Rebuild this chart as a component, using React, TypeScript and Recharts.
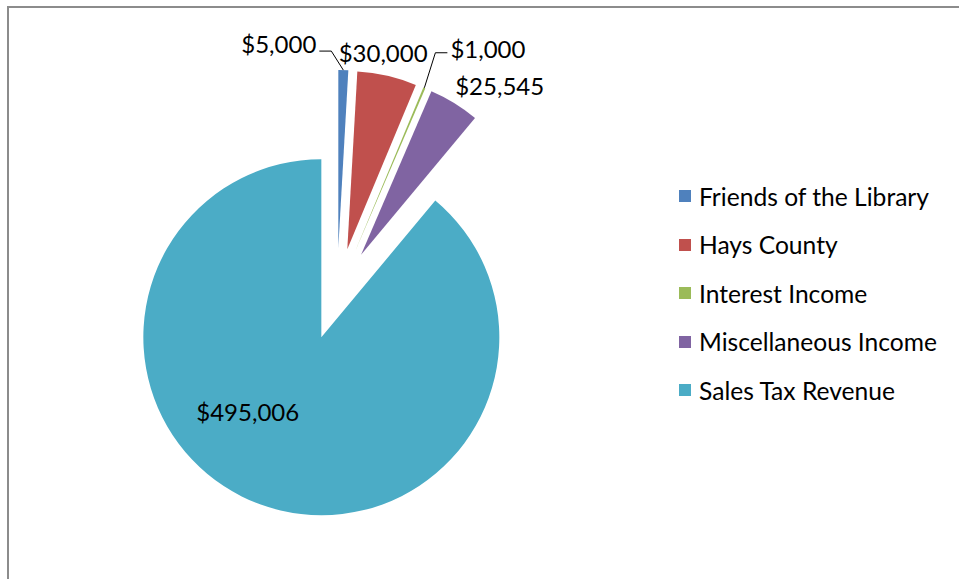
import { PieChart, Pie, Cell, Legend } from "recharts";

const categories = [
  "Friends of the Library",
  "Hays County",
  "Interest Income",
  "Miscellaneous Income",
  "Sales Tax Revenue",
];
const amounts = [5000, 30000, 1000, 25545, 495006];
const amountLabels = ["$5,000", "$30,000", "$1,000", "$25,545", "$495,006"];
const colors = ["#4F81BD", "#C0504D", "#9BBB59", "#8064A2", "#4BACC6"];

const data = categories.map((name, i) => ({ name, value: amounts[i] }));

const FONT = "Lato, 'Open Sans', sans-serif";
const RADIAN = Math.PI / 180;
const EXPLODE = 46;
const total = amounts.reduce((a, b) => a + b, 0);

// same angle convention as the Pie below: start at 90deg, go clockwise
function midAngleOf(i: number) {
  const before = amounts.slice(0, i).reduce((a, b) => a + b, 0);
  return 90 - ((before + amounts[i] / 2) / total) * 360;
}

function explodeOffset(angle: number) {
  return {
    dx: EXPLODE * Math.cos(angle * RADIAN),
    dy: -EXPLODE * Math.sin(angle * RADIAN),
  };
}

// label placement relative to the outer edge of each (exploded) slice
const labelLayout: {
  dx: number;
  dy: number;
  anchor: "start" | "middle" | "end";
  leader?: number[][];
}[] = [
  { dx: -27, dy: -27, anchor: "end", leader: [[-12, -19], [-24, -19]] },
  { dx: -4, dy: -23, anchor: "middle" },
  { dx: 26, dy: -39, anchor: "start", leader: [[11, -35], [23, -35]] },
  { dx: 1, dy: -18, anchor: "start" },
  { dx: -13, dy: -93, anchor: "middle" },
];

function renderLabel(props: any) {
  const { cx, cy, midAngle, outerRadius, index } = props;
  const off = explodeOffset(midAngle);
  const px = cx + off.dx + outerRadius * Math.cos(midAngle * RADIAN);
  const py = cy + off.dy - outerRadius * Math.sin(midAngle * RADIAN);
  const l = labelLayout[index];
  const pts = l.leader
    ? [[px, py], ...l.leader.map(([x, y]) => [px + x, py + y])]
        .map((p) => p.join(","))
        .join(" ")
    : null;
  return (
    <g key={`lbl-${index}`}>
      {pts && <polyline points={pts} fill="none" stroke="#000" strokeWidth={1} />}
      <text
        x={px + l.dx}
        y={py + l.dy}
        textAnchor={l.anchor}
        dominantBaseline="central"
        fontFamily={FONT}
        fontSize={24}
        fill="#000"
      >
        {amountLabels[index]}
      </text>
    </g>
  );
}

function LegendContent(props: any) {
  const payload = props.payload ?? [];
  return (
    <div>
      {payload.map((entry: any) => (
        <div
          key={entry.value}
          style={{ display: "flex", alignItems: "center", height: 48.5 }}
        >
          <span
            style={{
              display: "inline-block",
              width: 12,
              height: 12,
              background: entry.color,
              marginRight: 8,
            }}
          />
          <span style={{ fontFamily: FONT, fontSize: 24.6, color: "#000" }}>
            {entry.value}
          </span>
        </div>
      ))}
    </div>
  );
}

export default function App() {
  return (
    <>
      <div
        style={{
          position: "absolute",
          left: 7,
          top: 6,
          width: 950,
          height: 571,
          borderLeft: "2px solid #8c8c8c",
          borderTop: "2px solid #8c8c8c",
        }}
      />
      <div style={{ position: "absolute", left: 0, top: 0 }}>
        <PieChart
          width={959}
          height={579}
          margin={{ top: 0, right: 0, bottom: 0, left: 0 }}
        >
          <Pie
            data={data}
            dataKey="value"
            nameKey="name"
            cx={337}
            cy={294}
            outerRadius={178}
            startAngle={90}
            endAngle={-270}
            stroke="none"
            label={renderLabel}
            labelLine={false}
            isAnimationActive={false}
          >
            {data.map((d, i) => {
              const off = explodeOffset(midAngleOf(i));
              return (
                <Cell
                  key={d.name}
                  fill={colors[i]}
                  transform={`translate(${off.dx},${off.dy})`}
                />
              );
            })}
          </Pie>
          <Legend
            layout="vertical"
            align="right"
            verticalAlign="top"
            content={LegendContent}
            wrapperStyle={{ left: 679, top: 172, right: "auto", width: 280 }}
          />
        </PieChart>
      </div>
    </>
  );
}
